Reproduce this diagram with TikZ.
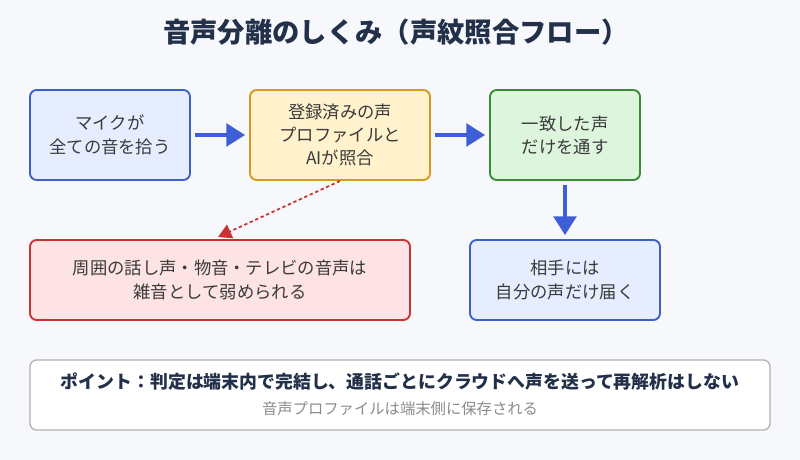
\documentclass[tikz,border=0pt]{standalone}
\usepackage{fontspec}
\setmainfont{Noto Sans CJK JP}
\usetikzlibrary{arrows.meta}
\definecolor{bg}{HTML}{F7F8FC}
\definecolor{bluef}{HTML}{E5EDFF}\definecolor{blued}{HTML}{3F5FC8}
\definecolor{yelf}{HTML}{FFF2CC}\definecolor{yeld}{HTML}{D69A1E}
\definecolor{grnf}{HTML}{DDF5DD}\definecolor{grnd}{HTML}{3A8A3A}
\definecolor{redf}{HTML}{FDE3E3}\definecolor{redd}{HTML}{C83232}
\definecolor{txt}{HTML}{3A3A3A}\definecolor{ttl}{HTML}{22304A}
\definecolor{arr}{HTML}{3F5FD8}
\begin{document}
\begin{tikzpicture}[x=0.75pt,y=-0.75pt,
 box/.style={draw,rounded corners=5pt,line width=1.4pt,align=center,text=txt,font=\fontsize{13}{17.5}\selectfont,inner sep=0pt},
 big/.style={-{Triangle[length=14pt,width=17pt]},line width=2.6pt,draw=arr}]
\fill[bg] (0,0) rectangle (800,460);
\useasboundingbox (0,0) rectangle (800,460);
\node[font=\bfseries\fontsize{20.5}{24}\selectfont,text=ttl] (t) at (396,32) {音声分離のしくみ（声紋照合フロー）};
\node[box,fill=bluef,draw=blued,minimum width=120pt,minimum height=67.5pt] (a) at (110,135) {マイクが\\全ての音を拾う};
\node[box,fill=yelf,draw=yeld,minimum width=135pt,minimum height=67.5pt] (b) at (340,135) {登録済みの声\\プロファイルと\\AIが照合};
\node[box,fill=grnf,draw=grnd,minimum width=112.5pt,minimum height=67.5pt] (c) at (565,135) {一致した声\\だけを通す};
\node[box,fill=redf,draw=redd,minimum width=285pt,minimum height=60pt] (d) at (220,280) {周囲の話し声・物音・テレビの音声は\\雑音として弱められる};
\node[box,fill=bluef,draw=blued,minimum width=142.5pt,minimum height=60pt] (e) at (565,280) {相手には\\自分の声だけ届く};
\node[draw=black!30,line width=1pt,rounded corners=5pt,fill=white,minimum width=555pt,minimum height=52.5pt] (f) at (400,395) {};
\node[font=\bfseries\fontsize{13.4}{15}\selectfont,text=ttl] (f1) at (400,382) {ポイント：判定は端末内で完結し、通話ごとにクラウドへ声を送って再解析はしない};
\node[font=\fontsize{11.5}{14}\selectfont,text=black!45] (f2) at (400,409) {音声プロファイルは端末側に保存される};
\draw[big] (a.east)++(4,0) -- ([xshift=-3pt]b.west);
\draw[big] (b.east)++(4,0) -- ([xshift=-3pt]c.west);
\draw[big] (c.south)++(0,4) -- ([yshift=3pt]e.north);
\coordinate (ds) at (340,181);
\draw[redd,line width=1.3pt,dash pattern=on 2.5pt off 2pt,-{Triangle[length=10pt,width=11pt]}] (ds) -- (218,237);
\end{tikzpicture}
\end{document}
